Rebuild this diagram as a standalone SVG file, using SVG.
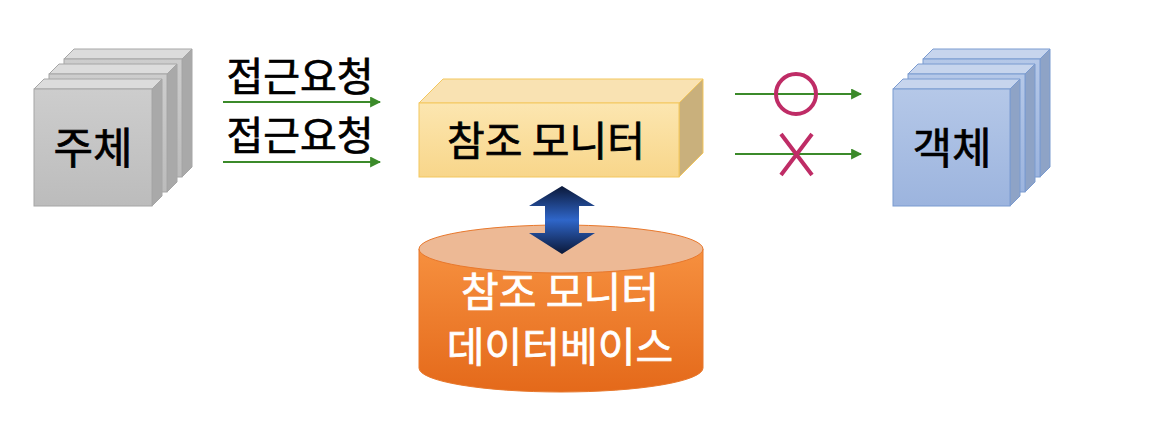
<svg xmlns="http://www.w3.org/2000/svg" width="1156" height="434" viewBox="0 0 1156 434">
<style>
text{font-family:"Noto Sans CJK KR","Noto Sans",sans-serif;text-anchor:middle;font-weight:400;stroke-width:0.7}
.g-front{fill:url(#gFront);stroke:#a6a6a6;stroke-width:1}
.g-top{fill:#dcdcdc;stroke:#a6a6a6;stroke-width:1}
.g-side{fill:#a9a9a9;stroke:#a6a6a6;stroke-width:1}
.b-front{fill:url(#bFront);stroke:#7b9bd0;stroke-width:1}
.b-top{fill:#c7d5ed;stroke:#7b9bd0;stroke-width:1}
.b-side{fill:#8ea3c6;stroke:#7b9bd0;stroke-width:1}
.lbl{font-size:43px;fill:#000;stroke:#000}
.req{font-size:40px;fill:#000;stroke:#000}
.big{font-size:41px}
.blk{fill:#000;stroke:#000}
.wht{fill:#fff;stroke:#fff}
.conn{stroke:#3b8a2a;stroke-width:2.2;fill:none}
.mark{stroke:#bf2c66;stroke-width:4;fill:none}
</style>
<defs>
<linearGradient id="gFront" x1="0" y1="0" x2="0" y2="1"><stop offset="0" stop-color="#cdcdcd"/><stop offset="1" stop-color="#bcbcbc"/></linearGradient>
<linearGradient id="bFront" x1="0" y1="0" x2="0" y2="1"><stop offset="0" stop-color="#b5c8e8"/><stop offset="1" stop-color="#9cb4de"/></linearGradient>
<linearGradient id="yFront" x1="0" y1="0" x2="0" y2="1"><stop offset="0" stop-color="#fce6b0"/><stop offset="1" stop-color="#f8d68a"/></linearGradient>
<linearGradient id="cyl" x1="0" y1="0" x2="0" y2="1"><stop offset="0" stop-color="#f6903f"/><stop offset="1" stop-color="#e4691a"/></linearGradient>
<linearGradient id="dbl" x1="0" y1="0" x2="0" y2="1"><stop offset="0" stop-color="#0b1838"/><stop offset="0.5" stop-color="#2f66c9"/><stop offset="1" stop-color="#0b1838"/></linearGradient>
<marker id="ah" viewBox="0 0 10 10" refX="9" refY="5" markerWidth="5" markerHeight="5" orient="auto" markerUnits="strokeWidth"><path d="M0,0 L10,5 L0,10 z" fill="#3b8a2a"/></marker>
</defs>

<g id="subject">
<polygon class="g-top" points="64,59 74,49 192,49 182,59"/>
<polygon class="g-side" points="182,59 192,49 192,167 182,177"/>
<rect class="g-front" x="64" y="59" width="118" height="118"/>
<polygon class="g-top" points="49,74 59,64 177,64 167,74"/>
<polygon class="g-side" points="167,74 177,64 177,182 167,192"/>
<rect class="g-front" x="49" y="74" width="118" height="118"/>
<polygon class="g-top" points="34,89 44,79 162,79 152,89"/>
<polygon class="g-side" points="152,89 162,79 162,196 152,206"/>
<rect class="g-front" x="34" y="89" width="118" height="117"/>
<text class="lbl" x="93" y="164">주체</text>
</g>

<g id="object">
<polygon class="b-top" points="923,59 933,49 1050,49 1040,59"/>
<polygon class="b-side" points="1040,59 1050,49 1050,167 1040,177"/>
<rect class="b-front" x="923" y="59" width="117" height="118"/>
<polygon class="b-top" points="908,74 918,64 1035,64 1025,74"/>
<polygon class="b-side" points="1025,74 1035,64 1035,182 1025,192"/>
<rect class="b-front" x="908" y="74" width="117" height="118"/>
<polygon class="b-top" points="893,89 903,79 1020,79 1010,89"/>
<polygon class="b-side" points="1010,89 1020,79 1020,196 1010,206"/>
<rect class="b-front" x="893" y="89" width="117" height="117"/>
<text class="lbl" x="952" y="164">객체</text>
</g>

<g id="monitor">
<polygon points="419,103 443,79 703,79 679,103" fill="#f9e2b2" stroke="#f3c75e" stroke-width="1"/>
<polygon points="679,103 703,79 703,153 679,177" fill="#c9b07c" stroke="#f3c75e" stroke-width="1"/>
<rect x="419" y="103" width="260" height="74" fill="url(#yFront)" stroke="#f3c75e" stroke-width="1"/>
<text class="big blk" x="546" y="156">참조 모니터</text>
</g>

<g id="database">
<path d="M419,249 L419,368 A142,24 0 0 0 703,368 L703,249 Z" fill="url(#cyl)" stroke="#e8782c" stroke-width="1"/>
<ellipse cx="561" cy="249" rx="142" ry="24" fill="#edb995" stroke="#e8782c" stroke-width="1"/>
<text class="big wht" x="560" y="307">참조 모니터</text>
<text class="big wht" x="560" y="362">데이터베이스</text>
</g>

<g id="connectors">
<line class="conn" x1="223" y1="102" x2="380" y2="102" marker-end="url(#ah)"/>
<line class="conn" x1="223" y1="162" x2="380" y2="162" marker-end="url(#ah)"/>
<line class="conn" x1="735" y1="94" x2="861" y2="94" marker-end="url(#ah)"/>
<line class="conn" x1="735" y1="154" x2="861" y2="154" marker-end="url(#ah)"/>
<polygon points="562,186 595,206 579,206 579,233 595,233 562,254 529,233 545,233 545,206 529,206" fill="url(#dbl)"/>
</g>

<g id="labels">
<text class="req" x="300" y="91">접근요청</text>
<text class="req" x="300" y="150">접근요청</text>
<circle class="mark" cx="796" cy="94" r="20"/>
<path class="mark" d="M781,134 L812,175 M812,134 L781,175"/>
</g>
</svg>
